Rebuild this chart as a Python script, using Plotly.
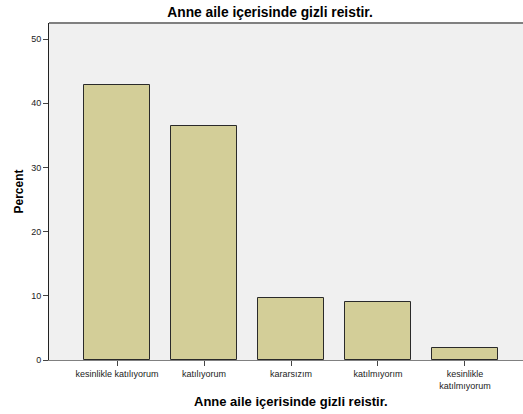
import plotly.graph_objects as go

categories = ["kesinlikle katılıyorum", "katılıyorum", "kararsızım", "katılmıyorım", "kesinlikle<br>katılmıyorum"]
percent = [42.9, 36.5, 9.7, 9.0, 1.9]
y_ticks = [0, 10, 20, 30, 40, 50]

W, H = 523, 414
L, R, T, B = 49, 0, 23, 54

fig = go.Figure()
fig.add_trace(go.Bar(
    x=list(range(len(categories))), y=percent,
    width=0.76,
    marker=dict(color="#d3ce98", line=dict(color="#2a2a2a", width=1)),
    hoverinfo="skip",
))

fig.update_layout(
    width=W, height=H,
    margin=dict(l=L, r=R, t=T, b=B, autoexpand=False),
    paper_bgcolor="white",
    plot_bgcolor="#f0f0f0",
    font=dict(family="Liberation Sans, Arial, sans-serif", size=9, color="#222"),
    showlegend=False,
    bargap=0,
    title=dict(text="<b>Anne aile içerisinde gizli reistir.</b>",
               x=270 / W, xanchor="center", xref="container",
               y=1 - 12 / H, yanchor="middle", yref="container",
               font=dict(size=13.8, color="black")),
    xaxis=dict(
        range=[-0.782, 4.667],
        tickmode="array", tickvals=list(range(len(categories))), ticktext=categories,
        ticks="outside", ticklen=5, tickcolor="#444", tickwidth=1,
        showgrid=False, zeroline=False,
        showline=True, linecolor="#808080", linewidth=1,
        tickfont=dict(size=9, color="#222"),
        fixedrange=True,
    ),
    yaxis=dict(
        range=[0, 52.5],
        tickmode="array", tickvals=y_ticks,
        ticks="outside", ticklen=5, tickcolor="#444", tickwidth=1,
        showgrid=False, zeroline=False,
        showline=True, linecolor="#222", linewidth=1,
        tickfont=dict(size=9, color="#222"),
        title=dict(text="<b>Percent</b>", font=dict(size=12, color="black"), standoff=4),
        fixedrange=True,
    ),
    shapes=[dict(type="line", xref="paper", yref="paper", x0=0, x1=1, y0=1, y1=1,
                 line=dict(color="#808080", width=2))],
    annotations=[dict(text="<b>Anne aile içerisinde gizli reistir.</b>",
                      xref="paper", yref="paper",
                      x=(291 - L) / (W - L - R), y=-(401 - 360) / (H - T - B),
                      xanchor="center", yanchor="middle", showarrow=False,
                      font=dict(size=13, color="black"))],
)

fig.write_html("out.html", config={"displayModeBar": False},
               post_script="document.body.style.margin='0';document.body.style.overflow='hidden';")
